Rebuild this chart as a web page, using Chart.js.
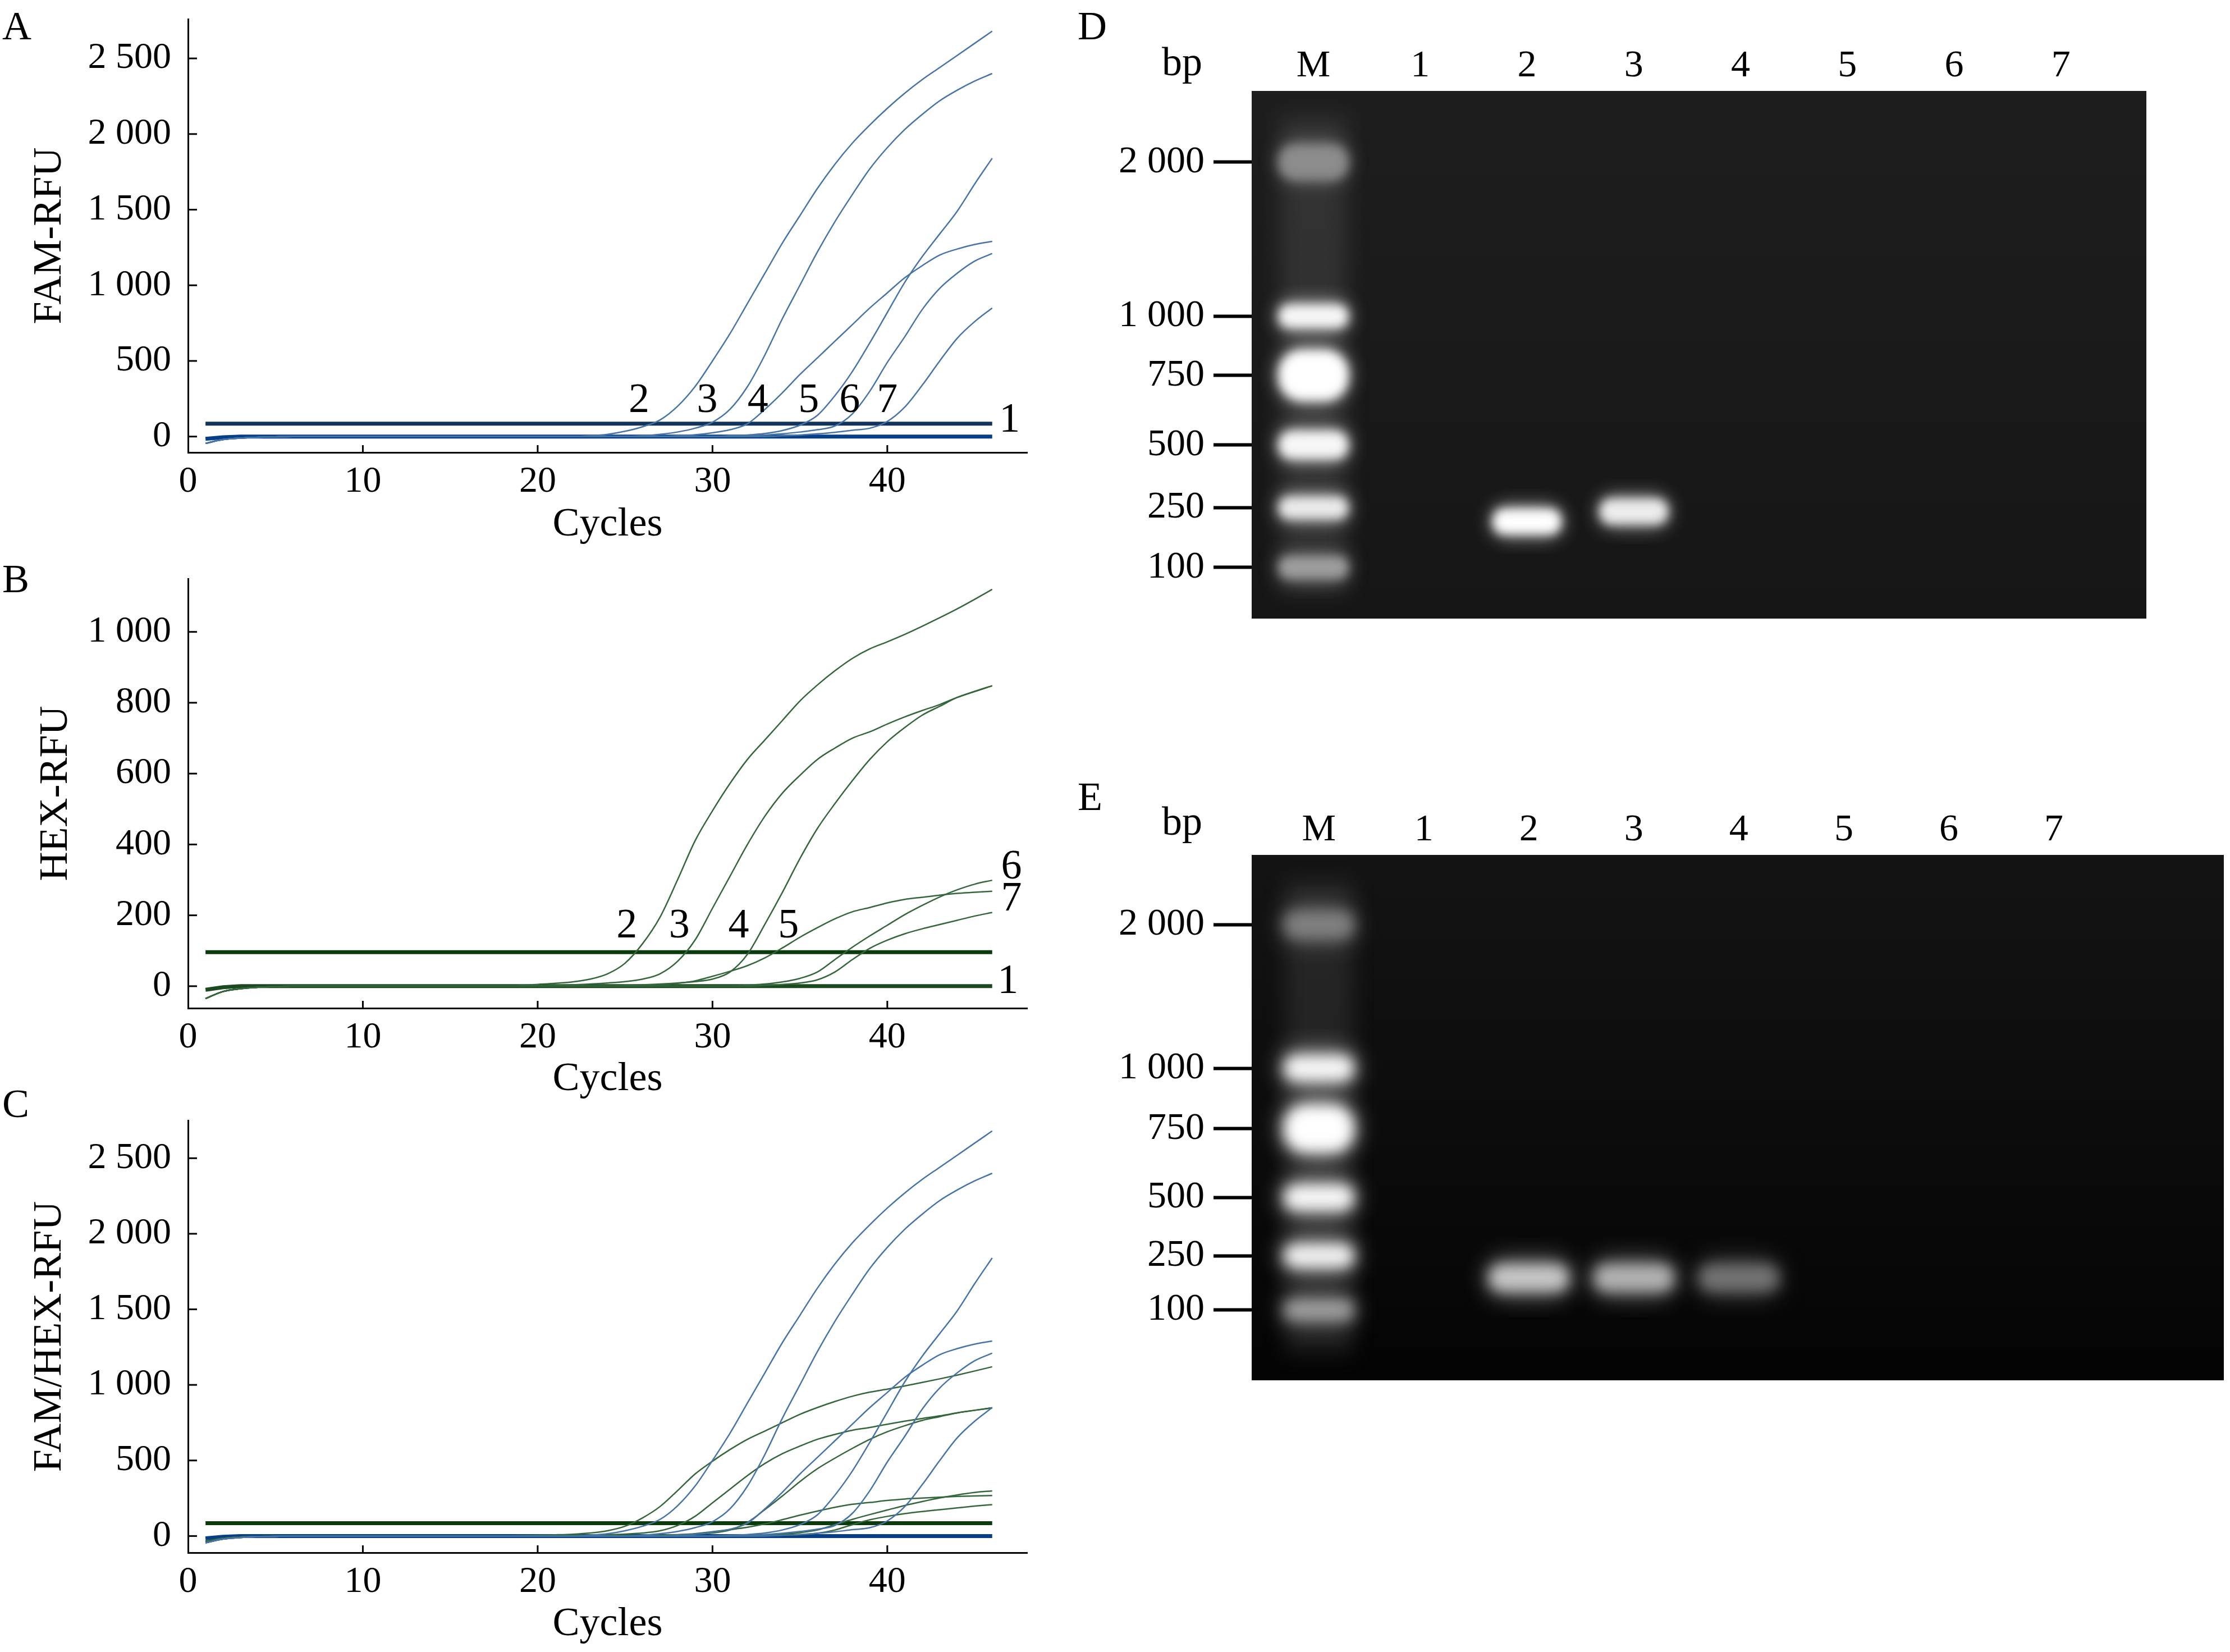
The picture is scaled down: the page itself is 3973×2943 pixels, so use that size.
<!DOCTYPE html>
<html>
<head>
<meta charset="utf-8">
<script src="https://cdn.jsdelivr.net/npm/chart.js@4.4.1/dist/chart.umd.min.js"></script>
<style>
html, body { margin: 0; padding: 0; background: #fff; }
body { width: 3973px; height: 2943px; position: relative; overflow: hidden; font-family: "Liberation Serif", "Times New Roman", serif; }
.box { position: absolute; }
.box canvas { display: block; }
.tag { position: absolute; font-size: 72px; line-height: 1; color: #000; }
</style>
</head>
<body>
<div class="tag" style="left:4px;top:10px">A</div>
<div class="tag" style="left:4px;top:995px">B</div>
<div class="tag" style="left:4px;top:1930px">C</div>
<div class="tag" style="left:1920px;top:10px">D</div>
<div class="tag" style="left:1920px;top:1383px">E</div>
<div class="tag" style="left:2070px;top:74px">bp</div>
<div class="tag" style="left:2070px;top:1427px">bp</div>

<div class="box" style="left:0;top:0"><canvas id="chartA" width="1900" height="985"></canvas></div>
<div class="box" style="left:0;top:990px"><canvas id="chartB" width="1900" height="990"></canvas></div>
<div class="box" style="left:0;top:1980px"><canvas id="chartC" width="1900" height="963"></canvas></div>
<div class="box" style="left:1990px;top:0"><canvas id="gelD" width="1850" height="1113"></canvas></div>
<div class="box" style="left:1990px;top:1380px"><canvas id="gelE" width="1983" height="1090"></canvas></div>

<script>
// ---- qPCR data ----
var cycles = [1,2,3,4,5,6,7,8,9,10,11,12,13,14,15,16,17,18,19,20,21,22,23,24,25,26,27,28,29,30,31,32,33,34,35,36,37,38,39,40,41,42,43,44,45,46];

// FAM channel, samples 1..7
var fam1 = [-15,-5,0,0,0,0,0,0,0,0, 0,0,0,0,0,0,0,0,0,0, 0,0,0,0,0,0,0,0,0,0, 0,0,0,0,0,0,0,0,0,0, 0,0,0,0,0,0];
var fam2 = [-45,-20,-10,-5,-2,0,0,0,0,0, 0,0,0,0,0,0,0,0,0,0, 0,0, 5,15,35,65,110,200,330,500,680,880,1080,1280,1460,1640,1800,1940,2060,2170,2270,2360,2440,2520,2600,2680];
var fam3 = [-45,-20,-10,-5,-2,0,0,0,0,0, 0,0,0,0,0,0,0,0,0,0, 0,0,0,0,0, 5,15,30,55,95,180,330,540,780,1000,1220,1420,1600,1770,1910,2030,2130,2220,2290,2350,2400];
var fam4 = [-45,-20,-10,-5,-2,0,0,0,0,0, 0,0,0,0,0,0,0,0,0,0, 0,0,0,0,0,0,0, 5,12,25,45,85,180,290,410,520,630,740,850,950,1050,1130,1200,1240,1270,1290];
var fam5 = [-45,-20,-10,-5,-2,0,0,0,0,0, 0,0,0,0,0,0,0,0,0,0, 0,0,0,0,0,0,0,0,0,0, 5,10,20,40,75,140,270,430,620,820,1020,1190,1340,1490,1670,1840];
var fam6 = [-45,-20,-10,-5,-2,0,0,0,0,0, 0,0,0,0,0,0,0,0,0,0, 0,0,0,0,0,0,0,0,0,0, 0, 5,10,18,30,45,70,150,300,490,660,840,980,1080,1160,1210];
var fam7 = [-45,-20,-10,-5,-2,0,0,0,0,0, 0,0,0,0,0,0,0,0,0,0, 0,0,0,0,0,0,0,0,0,0, 0,0,0, 5,10,18,28,42,55,100,195,340,500,650,760,850];

// HEX channel, samples 1..7
var hex1 = [-10,-3,0,0,0,0,0,0,0,0, 0,0,0,0,0,0,0,0,0,0, 0,0,0,0,0,0,0,0,0,0, 0,0,0,0,0,0,0,0,0,0, 0,0,0,0,0,0];
var hex2 = [-35,-15,-7,-3,-1,0,0,0,0,0, 0,0,0,0,0,0,0,0, 2,5,8,12,20,35,65,120,195,300,410,495,572,640,695,750,805,850,890,925,952,972,993,1016,1040,1065,1092,1120];
var hex3 = [-35,-15,-7,-3,-1,0,0,0,0,0, 0,0,0,0,0,0,0,0,0,0, 2,4,6,9,13,20,35,70,130,220,310,400,480,545,595,640,672,700,718,740,760,778,795,815,832,848];
var hex4 = [-35,-15,-7,-3,-1,0,0,0,0,0, 0,0,0,0,0,0,0,0,0,0, 0,0,0,0, 2,4,6,9,13,20,40,90,175,265,360,445,515,580,640,690,730,765,790,815,832,848];
var hex5 = [-35,-15,-7,-3,-1,0,0,0,0,0, 0,0,0,0,0,0,0,0,0,0, 0,0,0,0,0,0, 3,8,15,28,42,58,80,108,138,165,190,210,222,235,245,251,257,262,265,268];
var hex6 = [-35,-15,-7,-3,-1,0,0,0,0,0, 0,0,0,0,0,0,0,0,0,0, 0,0,0,0,0,0,0,0,0,0, 0, 3,6,12,22,40,75,110,142,172,202,228,252,272,288,299];
var hex7 = [-35,-15,-7,-3,-1,0,0,0,0,0, 0,0,0,0,0,0,0,0,0,0, 0,0,0,0,0,0,0,0,0,0, 0,0, 2,5,9,18,40,75,107,130,148,162,174,186,198,208];

var thresholdFam = 85;
var thresholdHex = 96;
var thresholdMix = 85;

var xTicks = [0, 10, 20, 30, 40];
var yTicksFam = [0, 500, 1000, 1500, 2000, 2500];
var yTickTextFam = ['0', '500', '1 000', '1 500', '2 000', '2 500'];
var yTicksHex = [0, 200, 400, 600, 800, 1000];
var yTickTextHex = ['0', '200', '400', '600', '800', '1 000'];

// curve numbers written on the plots (cycle, RFU)
var labTextA = ['2', '3', '4', '5', '6', '7', '1'];
var labCycleA = [25.8, 29.7, 32.6, 35.5, 37.85, 40.0, 47.0];
var labRfuA = [233, 233, 233, 233, 233, 233, 105];
var labTextB = ['2', '3', '4', '5', '6', '7', '1'];
var labCycleB = [25.1, 28.1, 31.5, 34.35, 47.1, 47.1, 46.9];
var labRfuB = [169, 169, 169, 169, 334, 244, 12];

// ---- gel data ----
var gelLanes = ['M', '1', '2', '3', '4', '5', '6', '7'];
var ladderBp = ['2 000', '1 000', '750', '500', '250', '100'];
// migration from the well, % of gel height
var ladderMigD = [13.5, 42.7, 53.9, 67.1, 79.0, 90.3];
var ladderGlowD = [0.55, 0.97, 1.0, 0.97, 0.92, 0.62];
var bandLaneD = [2, 3];
var bandMigD = [81.6, 79.7];
var bandGlowD = [1.0, 0.93];
var ladderMigE = [13.3, 40.6, 52.1, 65.2, 76.3, 86.6];
var ladderGlowE = [0.5, 0.97, 1.0, 0.97, 0.95, 0.62];
var bandLaneE = [2, 3, 4];
var bandMigE = [80.5, 80.5, 80.5];
var bandGlowE = [0.78, 0.7, 0.45];

Chart.defaults.font.family = '"Liberation Serif", "Times New Roman", serif';
Chart.defaults.color = '#000';

function pts(arr) {
  return cycles.map(function (c, i) { return { x: c, y: arr[i] }; });
}
function flat(v) {
  return [{ x: cycles[0], y: v }, { x: cycles[cycles.length - 1], y: v }];
}
// keep the plot box where it is, whatever the end labels need
function noEdgePad(s) {
  s.paddingTop = 0; s.paddingBottom = 0;
}

// tick marks pointing into the plot
var innerTicks = {
  id: 'innerTicks',
  afterDraw: function (chart) {
    var ctx = chart.ctx, x = chart.scales.x, y = chart.scales.y;
    ctx.save();
    ctx.strokeStyle = '#000';
    ctx.lineWidth = 3;
    x.ticks.forEach(function (t) {
      var px = x.getPixelForValue(t.value);
      if (px - x.left < 4) return;
      ctx.beginPath(); ctx.moveTo(px, x.top); ctx.lineTo(px, x.top - 13); ctx.stroke();
    });
    y.ticks.forEach(function (t) {
      var py = y.getPixelForValue(t.value);
      ctx.beginPath(); ctx.moveTo(y.right, py); ctx.lineTo(y.right + 16, py); ctx.stroke();
    });
    ctx.restore();
  }
};

var curveLabels = {
  id: 'curveLabels',
  afterDatasetsDraw: function (chart, args, opts) {
    if (!opts || !opts.text) return;
    var ctx = chart.ctx, x = chart.scales.x, y = chart.scales.y;
    ctx.save();
    ctx.fillStyle = '#000';
    ctx.font = '74px "Liberation Serif"';
    ctx.textAlign = 'center';
    ctx.textBaseline = 'middle';
    opts.text.forEach(function (t, i) {
      ctx.fillText(t, x.getPixelForValue(opts.cx[i]), y.getPixelForValue(opts.cy[i]));
    });
    ctx.restore();
  }
};

function thin(arr, color) {
  return { data: pts(arr), borderColor: color, borderWidth: 2.5, pointRadius: 0, cubicInterpolationMode: 'monotone' };
}
function thick(data, color) {
  return { data: data, borderColor: color, borderWidth: 7, pointRadius: 0 };
}

function pcrChart(id, datasets, o) {
  return new Chart(document.getElementById(id), {
    type: 'line',
    data: { datasets: datasets },
    options: {
      responsive: false, animation: false, devicePixelRatio: 1, events: [],
      layout: { padding: { top: o.padTop, right: 70, left: 0, bottom: 0 } },
      plugins: {
        legend: { display: false }, tooltip: { enabled: false },
        curveLabels: o.labels || {}
      },
      scales: {
        x: {
          type: 'linear', min: 0, max: 48,
          afterBuildTicks: function (s) { s.ticks = xTicks.map(function (v) { return { value: v }; }); },
          afterFit: function (s) { s.height = o.xHeight; },
          grid: { display: false, drawTicks: false },
          border: { display: true, color: '#000', width: 3 },
          ticks: { font: { size: 66 }, padding: 13, autoSkip: false, maxRotation: 0 },
          title: { display: true, text: 'Cycles', font: { size: 72 }, padding: { top: 0, bottom: o.titlePad } }
        },
        y: {
          type: 'linear', min: o.yMin, max: o.yMax,
          afterBuildTicks: function (s) { s.ticks = o.yTicks.map(function (v) { return { value: v }; }); },
          afterFit: function (s) { s.width = 335; noEdgePad(s); },
          grid: { display: false, drawTicks: false },
          border: { display: true, color: '#000', width: 3 },
          ticks: { font: { size: 66 }, padding: 30, autoSkip: false,
                   callback: function (v, i) { return o.yText[i]; } },
          title: { display: true, text: o.yTitle, font: { size: 72 }, padding: { top: o.yTitlePad, bottom: 0 } }
        }
      }
    },
    plugins: [innerTicks, curveLabels]
  });
}

var famColor = '#4674a6';
var hexColor = '#33663a';

pcrChart('chartA', [
  thin(fam2, famColor), thin(fam3, famColor), thin(fam4, famColor),
  thin(fam5, famColor), thin(fam6, famColor), thin(fam7, famColor),
  thick(flat(thresholdFam), '#12345c'),
  thick(pts(fam1), '#063f88')
], { padTop: 34, xHeight: 179, titlePad: 7, yMin: -105, yMax: 2760, yTicks: yTicksFam, yText: yTickTextFam,
     yTitle: 'FAM-RFU', yTitlePad: 46, labels: { text: labTextA, cx: labCycleA, cy: labRfuA } });

pcrChart('chartB', [
  thin(hex2, hexColor), thin(hex3, hexColor), thin(hex4, hexColor),
  thin(hex5, hexColor), thin(hex6, hexColor), thin(hex7, hexColor),
  thick(flat(thresholdHex), '#0b3a0d'),
  thick(pts(hex1), '#1c4a1f')
], { padTop: 41, xHeight: 184, titlePad: 14, yMin: -62, yMax: 1150, yTicks: yTicksHex, yText: yTickTextHex,
     yTitle: 'HEX-RFU', yTitlePad: 57, labels: { text: labTextB, cx: labCycleB, cy: labRfuB } });

pcrChart('chartC', [
  thin(fam2, famColor), thin(fam3, famColor), thin(fam4, famColor),
  thin(fam5, famColor), thin(fam6, famColor), thin(fam7, famColor),
  thin(hex2, hexColor), thin(hex3, hexColor), thin(hex4, hexColor),
  thin(hex5, hexColor), thin(hex6, hexColor), thin(hex7, hexColor),
  thick(flat(thresholdMix), '#0b3a0d'),
  thick(pts(fam1), '#063f88')
], { padTop: 16, xHeight: 177, titlePad: 6, yMin: -110, yMax: 2750, yTicks: yTicksFam, yText: yTickTextFam,
     yTitle: 'FAM/HEX-RFU', yTitlePad: 46 });

// ---- gels ----
function makeBand(w, h, level, blur) {
  var pad = blur * 4;
  var cv = document.createElement('canvas');
  cv.width = w + pad * 2; cv.height = h + pad * 2;
  var c = cv.getContext('2d');
  var v = Math.round(255 * level);
  c.fillStyle = 'rgb(' + v + ',' + v + ',' + v + ')';
  c.filter = 'blur(' + (blur * 1.8) + 'px)';
  c.globalAlpha = 0.5;
  c.beginPath(); c.roundRect(pad - blur * 0.6, pad - blur, w + blur * 1.2, h + blur * 2, (h + blur * 2) / 2); c.fill();
  c.filter = 'blur(' + blur + 'px)';
  c.globalAlpha = 1;
  c.beginPath(); c.roundRect(pad, pad, w, h, h / 2.2); c.fill();
  return cv;
}

var gelBackground = {
  id: 'gelBackground',
  beforeDatasetsDraw: function (chart, args, o) {
    var ctx = chart.ctx, a = chart.chartArea, x = chart.scales.x, y = chart.scales.y;
    ctx.save();
    ctx.beginPath(); ctx.rect(a.left, a.top, a.right - a.left, a.bottom - a.top); ctx.clip();
    var g = ctx.createLinearGradient(0, a.top, 0, a.bottom);
    g.addColorStop(0, o.top); g.addColorStop(1, o.bottom);
    ctx.fillStyle = g;
    ctx.fillRect(a.left, a.top, a.right - a.left, a.bottom - a.top);
    var lx = x.getPixelForValue(0);
    ctx.filter = 'blur(18px)';
    ctx.fillStyle = o.smear;
    var y0 = y.getPixelForValue(5), y1 = y.getPixelForValue(95);
    ctx.fillRect(lx - 60, y0, 120, y1 - y0);
    ctx.restore();
  }
};

function gelChart(id, o) {
  var ladderImgs = o.ladderGlow.map(function (lv, i) { return makeBand(122, o.ladderH[i], lv, o.blur); });
  var bandImgs = o.bandGlow.map(function (lv) { return makeBand(o.bandW, o.bandH, lv, o.blur); });
  var mIdx = gelLanes.indexOf('M');
  return new Chart(document.getElementById(id), {
    type: 'scatter',
    data: {
      datasets: [
        { data: o.ladderMig.map(function (m) { return { x: mIdx, y: m }; }), pointRadius: 10,
          pointStyle: function (c) { return ladderImgs[c.dataIndex]; } },
        { data: o.bandMig.map(function (m, i) { return { x: o.bandLane[i], y: m }; }), pointRadius: 10,
          pointStyle: function (c) { return bandImgs[c.dataIndex]; } }
      ]
    },
    options: {
      responsive: false, animation: false, devicePixelRatio: 1, events: [],
      layout: { padding: { top: 0, right: o.padRight, bottom: 0, left: 0 } },
      plugins: { legend: { display: false }, tooltip: { enabled: false }, gelBackground: o.bg },
      scales: {
        x: {
          type: 'linear', position: 'top', min: o.xMin, max: o.xMax,
          afterBuildTicks: function (s) { s.ticks = gelLanes.map(function (l, i) { return { value: i }; }); },
          afterFit: function (s) { s.height = o.xHeight; },
          grid: { display: false, drawTicks: false },
          border: { display: false },
          ticks: { font: { size: 68 }, padding: 3, autoSkip: false, maxRotation: 0,
                   callback: function (v, i) { return gelLanes[i]; } }
        },
        y: {
          type: 'linear', reverse: true, min: 0, max: 100,
          afterBuildTicks: function (s) { s.ticks = o.ladderMig.map(function (m) { return { value: m }; }); },
          afterFit: function (s) { s.width = 240; noEdgePad(s); },
          grid: { display: true, drawOnChartArea: false, drawTicks: true, tickLength: 68, tickWidth: 6, tickColor: '#000' },
          border: { display: false },
          ticks: { font: { size: 68 }, padding: 16, autoSkip: false,
                   callback: function (v, i) { return ladderBp[i]; } }
        }
      }
    },
    plugins: [gelBackground]
  });
}

gelChart('gelD', {
  ladderMig: ladderMigD, ladderGlow: ladderGlowD, ladderH: [62, 40, 88, 48, 38, 38],
  bandLane: bandLaneD, bandMig: bandMigD, bandGlow: bandGlowD, bandW: 120, bandH: 44, blur: 9,
  xMin: -0.578, xMax: 7.8, xHeight: 162, padRight: 16,
  bg: { top: '#1e1e1e', bottom: '#161616', smear: 'rgba(120,120,120,0.24)' }
});

gelChart('gelE', {
  ladderMig: ladderMigE, ladderGlow: ladderGlowE, ladderH: [48, 44, 82, 44, 40, 36],
  bandLane: bandLaneE, bandMig: bandMigE, bandGlow: bandGlowE, bandW: 140, bandH: 46, blur: 12,
  xMin: -0.64, xMax: 8.62, xHeight: 143, padRight: 0,
  bg: { top: '#141414', bottom: '#040404', smear: 'rgba(120,120,120,0.2)' }
});
</script>
</body>
</html>
